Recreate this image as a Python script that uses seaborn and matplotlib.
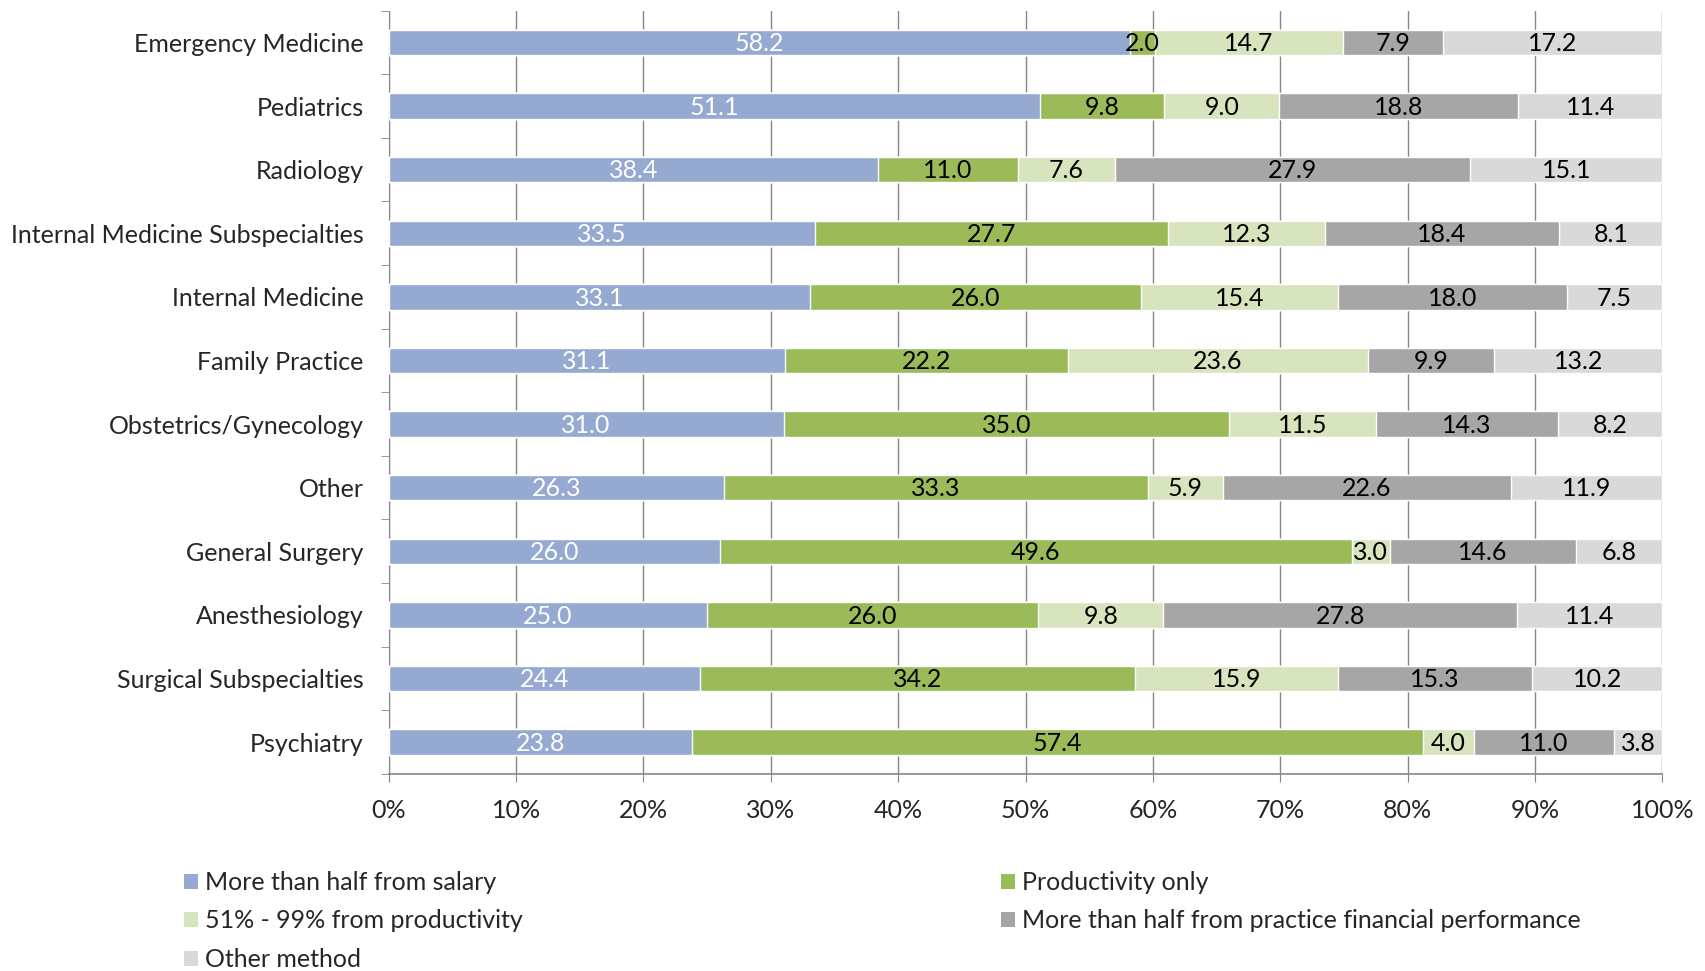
import matplotlib
matplotlib.use("Agg")
import matplotlib.pyplot as plt
import seaborn as sns
import pandas as pd
import numpy as np
from matplotlib.patches import Patch
from matplotlib.ticker import FixedLocator, PercentFormatter

categories = ["Emergency Medicine", "Pediatrics", "Radiology", "Internal Medicine Subspecialties",
              "Internal Medicine", "Family Practice", "Obstetrics/Gynecology", "Other",
              "General Surgery", "Anesthesiology", "Surgical Subspecialties", "Psychiatry"]
salary = [58.2, 51.1, 38.4, 33.5, 33.1, 31.1, 31.0, 26.3, 26.0, 25.0, 24.4, 23.8]
productivity_only = [2.0, 9.8, 11.0, 27.7, 26.0, 22.2, 35.0, 33.3, 49.6, 26.0, 34.2, 57.4]
productivity_51_99 = [14.7, 9.0, 7.6, 12.3, 15.4, 23.6, 11.5, 5.9, 3.0, 9.8, 15.9, 4.0]
practice_perf = [7.9, 18.8, 27.9, 18.4, 18.0, 9.9, 14.3, 22.6, 14.6, 27.8, 15.3, 11.0]
other_method = [17.2, 11.4, 15.1, 8.1, 7.5, 13.2, 8.2, 11.9, 6.8, 11.4, 10.2, 3.8]

series_names = ["More than half from salary", "Productivity only", "51% - 99% from productivity",
                "More than half from practice financial performance", "Other method"]
series_vals = [salary, productivity_only, productivity_51_99, practice_perf, other_method]
colors = ["#95A9D1", "#9BBB59", "#D7E4BD", "#A6A6A6", "#D9D9D9"]
label_colors = ["white", "black", "black", "black", "black"]

sns.set_style("white")
plt.rcParams['font.family'] = ['Lato', 'DejaVu Sans']
FS = 18

fig = plt.figure(figsize=(17.05, 9.71), dpi=100)
ax = fig.add_axes([0.228, 0.203, 0.747, 0.786])

vals = np.array(series_vals)
cum = np.cumsum(vals, axis=0)
# draw cumulative totals from largest to smallest so each layer shows
for i in range(len(series_names) - 1, -1, -1):
    df = pd.DataFrame({"cat": categories, "val": cum[i]})
    sns.barplot(data=df, x="val", y="cat", orient="h", color=colors[i], saturation=1,
                width=0.4, ax=ax, order=categories, zorder=3)

for i in range(len(series_names)):
    for j, c in enumerate(categories):
        x = cum[i][j] - vals[i][j] / 2
        ax.text(x, j + 0.02, f"{vals[i][j]:.1f}", ha="center", va="center", fontsize=FS,
                color=label_colors[i], zorder=5)

ax.set_xlim(0, 100)
ax.set_ylim(len(categories) - 0.5, -0.5)
ax.xaxis.set_major_locator(FixedLocator(np.arange(0, 101, 10)))
ax.xaxis.set_major_formatter(PercentFormatter(decimals=0))
ax.grid(axis="x", color="#868686", linewidth=1, zorder=0)
ax.set_axisbelow(True)
ax.set_xlabel("")
ax.set_ylabel("")
for s in ["top", "right"]:
    ax.spines[s].set_visible(False)
ax.spines["left"].set_color("#868686")
ax.spines["bottom"].set_color("#868686")
ax.spines["bottom"].set_linewidth(1.2)
ax.tick_params(axis="x", which="major", length=6, color="#868686", direction="out",
               labelsize=FS, pad=12, bottom=True)
ax.tick_params(axis="y", which="major", length=0, labelsize=FS, pad=18)
ax.yaxis.set_minor_locator(FixedLocator(np.arange(-0.5, len(categories), 1.0)))
ax.tick_params(axis="y", which="minor", length=6, color="#868686", direction="out", left=True)

handles = [Patch(facecolor=c, edgecolor="none") for c in colors]
leg_kw = dict(loc="upper left", frameon=False, fontsize=FS, handlelength=0.55, handleheight=0.55,
              handletextpad=0.3, labelspacing=0.62, borderaxespad=0, borderpad=0)
fig.legend([handles[0], handles[2], handles[4]], [series_names[0], series_names[2], series_names[4]],
           bbox_to_anchor=(0.108, 0.103), **leg_kw)
fig.legend([handles[1], handles[3]], [series_names[1], series_names[3]],
           bbox_to_anchor=(0.587, 0.103), **leg_kw)

fig.savefig("out.png", dpi=100)
